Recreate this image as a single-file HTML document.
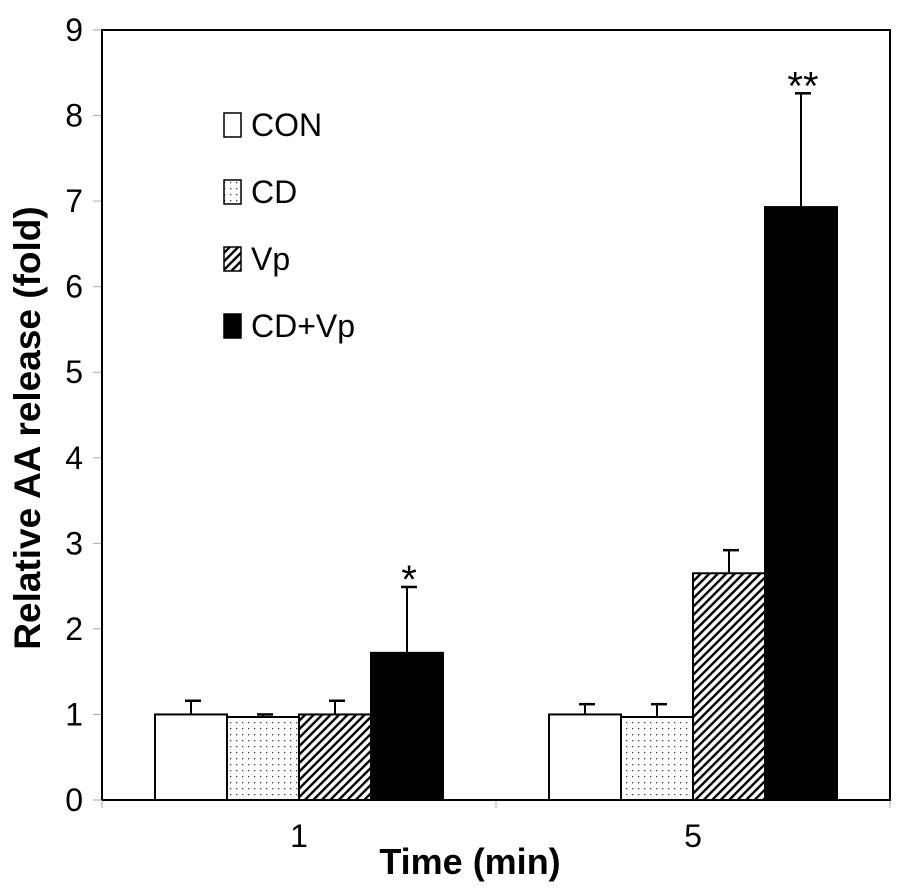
<!DOCTYPE html>
<html><head><meta charset="utf-8"><style>
html,body{margin:0;padding:0;background:#fff;}
svg{display:block;font-family:"Liberation Sans",Arial,sans-serif;}
</style></head><body>
<svg id="chart" width="904" height="889" viewBox="0 0 904 889">
<defs>
<pattern id="dots" width="6" height="6" patternUnits="userSpaceOnUse"><rect width="6" height="6" fill="#fff"/><rect x="2" y="2" width="1.3" height="1.3" fill="#444"/></pattern>
<pattern id="hatch" width="6" height="6" patternUnits="userSpaceOnUse" patternTransform="rotate(45)"><rect width="6" height="6" fill="#fff"/><rect x="0" y="0" width="2.4" height="6" fill="#000"/></pattern>
</defs>
<g id="axes"></g><g id="bars"></g><g id="legend"></g>
</svg>
<script>
const categories = ["1","5"];
const seriesNames = ["CON","CD","Vp","CD+Vp"];
const conValues = [1.0, 1.0];
const cdValues = [0.97, 0.97];
const vpValues = [1.0, 2.65];
const cdvpValues = [1.72, 6.93];
const conErr = [0.16, 0.12];
const cdErr = [0.03, 0.15];
const vpErr = [0.16, 0.27];
const cdvpErr = [0.77, 1.33];
const yTicks = [0,1,2,3,4,5,6,7,8,9];
const signif = [["","","","*"],["","","","**"]];

const NS="http://www.w3.org/2000/svg";
const L=102,R=890,T=30,B=800,yMax=9;
const y=v=>B-(v/yMax)*(B-T);
const catW=(R-L)/categories.length;
const xc=i=>L+catW*(i+0.5);
const barW=72;
const fills=["#fff","url(#dots)","url(#hatch)","#000"];
const vals=[conValues,cdValues,vpValues,cdvpValues];
const errs=[conErr,cdErr,vpErr,cdvpErr];
function mk(tag,attrs,parent,text){const e=document.createElementNS(NS,tag);for(const k in attrs)e.setAttribute(k,attrs[k]);if(text!==undefined)e.textContent=text;parent.appendChild(e);return e;}
const ax=document.getElementById('axes'),bg=document.getElementById('bars'),lg=document.getElementById('legend');
yTicks.forEach(t=>{
  const tk=mk('line',{x1:93,x2:L,y1:y(t),y2:y(t),stroke:'#aaa','stroke-width':1},ax);
  
  
  const lb=mk('text',{x:83,y:y(t)+11,'text-anchor':'end','font-size':32},ax,String(t));
  
  
});
for(let i=0;i<=categories.length;i++){
  const tk=mk('line',{x1:L+catW*i,x2:L+catW*i,y1:B,y2:B+8,stroke:'#aaa','stroke-width':1},ax);
  
  
}
categories.forEach((c,i)=>{
  const lb=mk('text',{x:xc(i),y:847,'text-anchor':'middle','font-size':32},ax,c);
  
  
});
categories.forEach((c,i)=>{
  const x0=xc(i)-2*barW;
  vals.forEach((s,k)=>{
    const bx=x0+k*barW, v=s[i], e=errs[k][i], top=y(v), et=y(v+e);
    const er=mk('line',{x1:bx+barW/2,x2:bx+barW/2,y1:top,y2:et,stroke:'#000','stroke-width':2},bg);
    
    
    const cap=mk('line',{x1:bx+barW/2-6,x2:bx+barW/2+10,y1:et,y2:et,stroke:'#000','stroke-width':2.5},bg);
    
    
    const r=mk('rect',{x:bx,y:top,width:barW,height:B-top,fill:fills[k],stroke:'#000','stroke-width':2},bg);
    
    
    if(signif[i][k]){
      const s2=mk('text',{x:bx+barW/2+2,y:et+6,'text-anchor':'middle','font-size':40},bg,signif[i][k]);
      
      
    }
  });
});
const frame=mk('path',{d:`M${L},${B}V${T}H${R}V${B}H${L}`,fill:'none',stroke:'#000','stroke-width':2},ax);


const xt=mk('text',{x:470,y:874,'text-anchor':'middle','font-size':36,'font-weight':'bold'},ax,'Time (min)');


const yt=mk('text',{x:0,y:0,transform:'translate(40,428) rotate(-90)','text-anchor':'middle','font-size':37,'font-weight':'bold'},ax,'Relative AA release (fold)');


const lys=[113,180,247,314];
seriesNames.forEach((n,k)=>{
  const r=mk('rect',{x:224,y:lys[k],width:17,height:24,fill:fills[k],stroke:'#000','stroke-width':1.5},lg);
  
  
  const t=mk('text',{x:251,y:lys[k]+23,'font-size':32},lg,n);
  
  
});
</script>
</body></html>
